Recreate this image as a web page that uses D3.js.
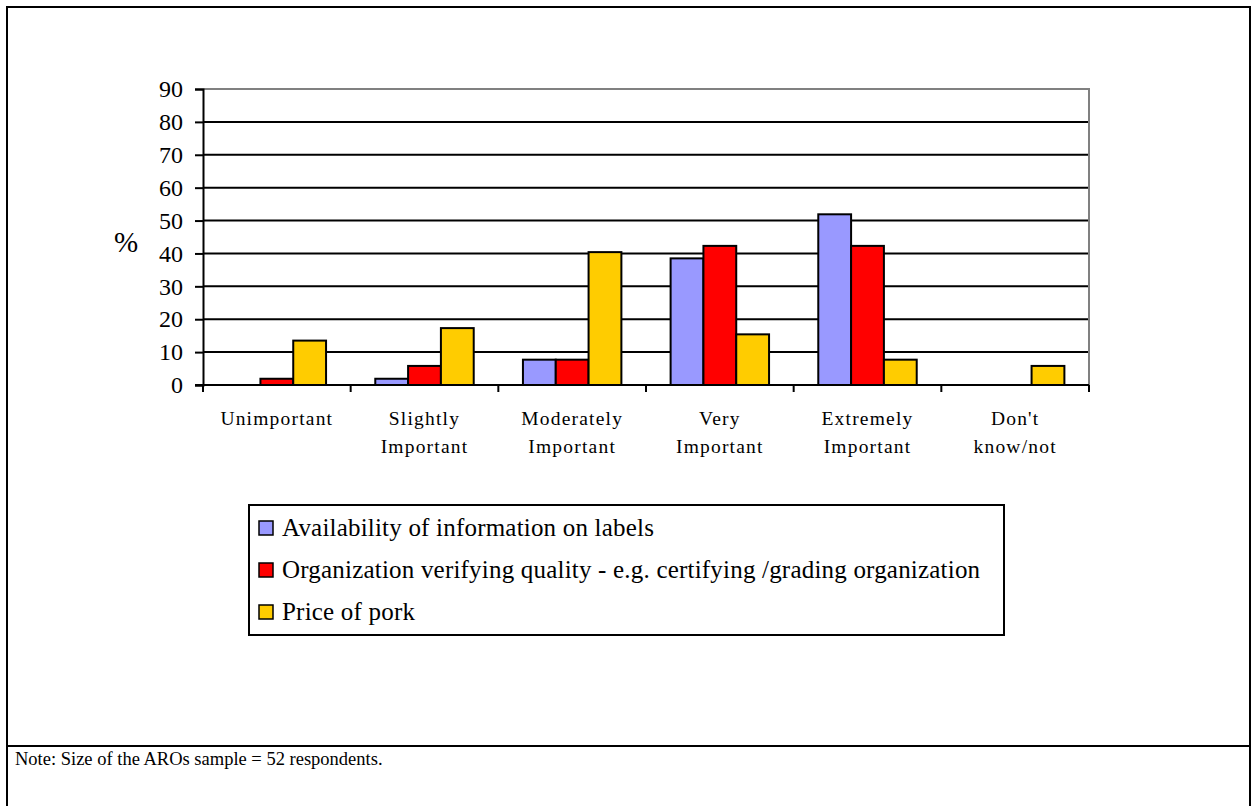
<!DOCTYPE html>
<html>
<head>
<meta charset="utf-8">
<script src="https://cdn.jsdelivr.net/npm/d3@7"></script>
<style>
  html, body { margin: 0; padding: 0; background: #fff; }
  svg { display: block; }
</style>
</head>
<body>
<svg id="chart" width="1255" height="806"></svg>
<script>
// Importance ratings (% of respondents)
const categories = ["Unimportant", "Slightly Important", "Moderately Important",
                    "Very Important", "Extremely Important", "Don't know/not"];
const categoryLines = [["Unimportant"], ["Slightly", "Important"], ["Moderately", "Important"],
                       ["Very", "Important"], ["Extremely", "Important"], ["Don't", "know/not"]];
const seriesNames = ["Availability of information on labels",
                     "Organization verifying quality - e.g. certifying /grading organization",
                     "Price of pork"];
const availability = [0, 1.9, 7.7, 38.5, 51.9, 0];
const organization = [1.9, 5.8, 7.7, 42.3, 42.3, 0];
const price = [13.5, 17.3, 40.4, 15.4, 7.7, 5.8];
const yTicks = [0, 10, 20, 30, 40, 50, 60, 70, 80, 90];
const seriesColors = ["#9999FF", "#FF0000", "#FFCC00"];
const noteText = "Note: Size of the AROs sample = 52 respondents.";

const FONT = "'Liberation Serif', 'Times New Roman', Times, serif";
const seriesValues = [availability, organization, price];
const svg = d3.select("#chart");

function txt(sel) { return sel.style("font-family", FONT).style("fill", "#000"); }

// outer frame and note separator
svg.append("rect").attr("x", 7).attr("y", 7).attr("width", 1243).attr("height", 820)
  .attr("fill", "none").attr("stroke", "#000").attr("stroke-width", 2);
svg.append("line").attr("x1", 7).attr("x2", 1250).attr("y1", 746).attr("y2", 746)
  .attr("stroke", "#000").attr("stroke-width", 2);
txt(svg.append("text").attr("x", 15).attr("y", 765).style("font-size", "18.5px")).text(noteText);

const plot = { left: 203, right: 1089, top: 89, bottom: 385 };

const x = d3.scaleBand().domain(categories).range([plot.left, plot.right]).padding(0);
const xs = d3.scaleBand().domain(d3.range(seriesNames.length))
  .range([0, x.bandwidth()]).paddingInner(0).paddingOuter(0.75);
const y = d3.scaleLinear().domain([0, 90]).range([plot.bottom, plot.top]);

// horizontal gridlines
svg.append("g").selectAll("line").data(yTicks.filter(t => t > 0 && t < 90)).join("line")
  .attr("x1", plot.left).attr("x2", plot.right)
  .attr("y1", d => y(d)).attr("y2", d => y(d))
  .attr("stroke", "#000").attr("stroke-width", 2);

// plot area border (top and right)
svg.append("path")
  .attr("d", `M${plot.left},${y(90)}H${plot.right}V${plot.bottom}`)
  .attr("fill", "none").attr("stroke", "#808080").attr("stroke-width", 2);

// bars
const groups = svg.append("g").selectAll("g").data(seriesValues).join("g")
  .attr("fill", (d, i) => seriesColors[i]);
groups.each(function (vals, si) {
  d3.select(this).selectAll("rect").data(vals.map((v, ci) => ({ v, ci })).filter(d => d.v > 0))
    .join("rect")
    .attr("x", d => x(categories[d.ci]) + xs(si))
    .attr("width", xs.bandwidth())
    .attr("y", d => y(d.v))
    .attr("height", d => y(0) - y(d.v))
    .attr("stroke", "#000").attr("stroke-width", 2);
});

// y axis
const yAxis = d3.axisLeft(y).tickValues(yTicks).tickSize(8).tickPadding(12).tickFormat(d3.format("d"));
const gy = svg.append("g").attr("transform", `translate(${plot.left},0)`).call(yAxis);
gy.select(".domain").attr("stroke", "#000").attr("stroke-width", 2);
gy.selectAll(".tick line").attr("stroke", "#000").attr("stroke-width", 2);
txt(gy.selectAll(".tick text")).style("font-size", "24px");

// x axis baseline and category ticks
svg.append("line").attr("x1", plot.left - 8).attr("x2", plot.right)
  .attr("y1", y(0)).attr("y2", y(0)).attr("stroke", "#000").attr("stroke-width", 2);
const boundaries = categories.map(c => x(c)).concat([plot.right]);
svg.append("g").selectAll("line").data(boundaries).join("line")
  .attr("x1", d => d).attr("x2", d => d)
  .attr("y1", y(0)).attr("y2", y(0) + 7)
  .attr("stroke", "#000").attr("stroke-width", 2);

// category labels
const xl = txt(svg.append("g").selectAll("text").data(categories).join("text"))
  .attr("text-anchor", "middle").style("font-size", "19.5px").style("letter-spacing", "1.2px")
  .attr("x", d => x(d) + x.bandwidth() / 2).attr("y", 425);
xl.each(function (d, i) {
  d3.select(this).selectAll("tspan").data(categoryLines[i]).join("tspan")
    .attr("x", x(d) + x.bandwidth() / 2)
    .attr("dy", (t, k) => k === 0 ? 0 : 28)
    .text(t => t);
});

// axis title
txt(svg.append("text").attr("x", 126).attr("y", 252).attr("text-anchor", "middle")
  .style("font-size", "29px")).text("%");

// legend
const lg = svg.append("g");
lg.append("rect").attr("x", 249).attr("y", 505).attr("width", 755).attr("height", 130)
  .attr("fill", "#fff").attr("stroke", "#000").attr("stroke-width", 2);
const items = lg.selectAll("g").data(seriesNames).join("g")
  .attr("transform", (d, i) => `translate(259,${521 + i * 42})`);
items.append("rect").attr("width", 14).attr("height", 14)
  .attr("fill", (d, i) => seriesColors[i]).attr("stroke", "#000").attr("stroke-width", 1.5);
txt(items.append("text").attr("x", 23).attr("y", 15))
  .style("font-size", "25px").style("letter-spacing", "0.2px").text(d => d);
</script>
</body>
</html>
